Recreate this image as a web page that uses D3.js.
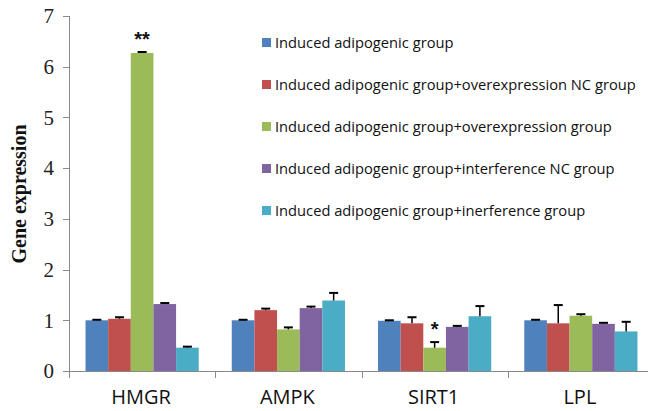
<!DOCTYPE html>
<html>
<head>
<meta charset="utf-8">
<script src="https://cdn.jsdelivr.net/npm/d3@7"></script>
<style>
  body { margin: 0; background: #fff; }
  svg { display: block; }
</style>
</head>
<body>
<div id="chart"></div>
<script>
// genes on the x axis
const genes = ["HMGR", "AMPK", "SIRT1", "LPL"];
// legend / series names
const groups = [
    "Induced adipogenic group",
    "Induced adipogenic group+overexpression NC group",
    "Induced adipogenic group+overexpression group",
    "Induced adipogenic group+interference NC group",
    "Induced adipogenic group+inerference group"
];
// mean values per gene, one entry per group
const values = [
    [1.00, 1.03, 6.27, 1.32, 0.46],
    [1.00, 1.20, 0.82, 1.24, 1.39],
    [0.99, 0.94, 0.46, 0.87, 1.08],
    [1.00, 0.94, 1.09, 0.93, 0.78]
];
// error bar sizes (upper only)
const errors = [
    [0.01, 0.03, 0.02, 0.02, 0.02],
    [0.01, 0.03, 0.04, 0.03, 0.15],
    [0.01, 0.12, 0.11, 0.02, 0.20],
    [0.01, 0.36, 0.03, 0.02, 0.19]
];
// significance marks: [gene index, group index, label]
const marks = [[0, 2, "**"], [2, 2, "*"]];
const yTicks = [0, 1, 2, 3, 4, 5, 6, 7];

const colors = ["#4F81BD", "#C0504D", "#9BBB59", "#8064A2", "#4BACC6"];

const W = 648, H = 411;
const svg = d3.select("#chart").append("svg")
    .attr("width", W)
    .attr("height", H);

const y = d3.scaleLinear().domain([0, 7]).range([371, 16]);
const x0 = d3.scaleBand().domain(genes).range([69, 654]).paddingInner(0).paddingOuter(0);
const x1 = d3.scaleBand().domain(d3.range(groups.length))
    .range([0, x0.bandwidth()]).paddingOuter(0.73).paddingInner(0);

const axisColor = "#898989";

// y axis
svg.append("line")
    .attr("x1", 69.5).attr("x2", 69.5)
    .attr("y1", y(7)).attr("y2", y(0))
    .attr("stroke", axisColor).attr("stroke-width", 1);
svg.selectAll(".ytick")
    .data(yTicks)
    .join("line")
    .attr("x1", 63).attr("x2", 69)
    .attr("y1", d => Math.round(y(d)) + 0.5).attr("y2", d => Math.round(y(d)) + 0.5)
    .attr("stroke", axisColor);
svg.selectAll(".ylab")
    .data(yTicks)
    .join("text")
    .attr("x", 54)
    .attr("y", d => y(d))
    .attr("dy", "0.35em")
    .attr("text-anchor", "end")
    .style("font-family", "'Liberation Serif', 'Times New Roman', serif")
    .style("font-size", "21px")
    .attr("fill", "#222")
    .text(d => d);

// bars
const g = svg.selectAll(".gene")
    .data(genes)
    .join("g")
    .attr("transform", d => `translate(${x0(d)},0)`);

g.selectAll("rect")
    .data((d, i) => values[i].map((v, j) => ({v, j})))
    .join("rect")
    .attr("x", d => x1(d.j))
    .attr("width", x1.bandwidth())
    .attr("y", d => y(d.v))
    .attr("height", d => y(0) - y(d.v))
    .attr("fill", d => colors[d.j]);

// error bars
const eb = g.selectAll(".err")
    .data((d, i) => values[i].map((v, j) => ({v, e: errors[i][j], j})))
    .join("g");
eb.append("line")
    .attr("x1", d => x1(d.j) + x1.bandwidth() / 2)
    .attr("x2", d => x1(d.j) + x1.bandwidth() / 2)
    .attr("y1", d => y(d.v))
    .attr("y2", d => y(d.v + d.e))
    .attr("stroke", "#000").attr("stroke-width", 1.5);
eb.append("line")
    .attr("x1", d => x1(d.j) + x1.bandwidth() / 2 - 4.5)
    .attr("x2", d => x1(d.j) + x1.bandwidth() / 2 + 4.5)
    .attr("y1", d => y(d.v + d.e))
    .attr("y2", d => y(d.v + d.e))
    .attr("stroke", "#000").attr("stroke-width", 2);

// x axis
svg.append("line")
    .attr("x1", 69).attr("x2", W)
    .attr("y1", 371.5).attr("y2", 371.5)
    .attr("stroke", axisColor);
svg.selectAll(".xtick")
    .data(genes)
    .join("line")
    .attr("x1", d => Math.round(x0(d)) + 0.5)
    .attr("x2", d => Math.round(x0(d)) + 0.5)
    .attr("y1", 371).attr("y2", 378)
    .attr("stroke", axisColor);
svg.selectAll(".xlab")
    .data(genes)
    .join("text")
    .attr("x", d => x0(d) + x0.bandwidth() / 2 - 1)
    .attr("y", 404)
    .attr("text-anchor", "middle")
    .style("font-family", "'Open Sans', 'Noto Sans', sans-serif")
    .style("font-size", "20px")
    .attr("fill", "#111")
    .text(d => d);

// significance stars
svg.selectAll(".star")
    .data(marks)
    .join("text")
    .attr("x", d => x0(genes[d[0]]) + x1(d[1]) + x1.bandwidth() / 2)
    .attr("y", d => y(values[d[0]][d[1]] + errors[d[0]][d[1]]) - 6)
    .attr("text-anchor", "middle")
    .style("font-family", "'Liberation Sans', Arial, sans-serif")
    .style("font-weight", "bold")
    .style("font-size", "20px")
    .attr("fill", "#111")
    .text(d => d[2]);

// y title
svg.append("text")
    .attr("transform", "translate(26,194) rotate(-90)")
    .attr("text-anchor", "middle")
    .style("font-family", "'Liberation Serif', 'Times New Roman', serif")
    .style("font-weight", "bold")
    .style("font-size", "20px")
    .attr("fill", "#111")
    .text("Gene expression");

// legend
const leg = svg.selectAll(".leg")
    .data(groups)
    .join("g")
    .attr("transform", (d, i) => `translate(262,${42.5 + i * 42})`);
leg.append("rect")
    .attr("x", 0).attr("y", -4.5)
    .attr("width", 9).attr("height", 9)
    .attr("fill", (d, i) => colors[i]);
leg.append("text")
    .attr("x", 13)
    .attr("dy", "0.35em")
    .style("font-family", "'Open Sans', 'Noto Sans', sans-serif")
    .style("font-size", "14.7px")
    .attr("fill", "#111")
    .text(d => d);
</script>
</body>
</html>
